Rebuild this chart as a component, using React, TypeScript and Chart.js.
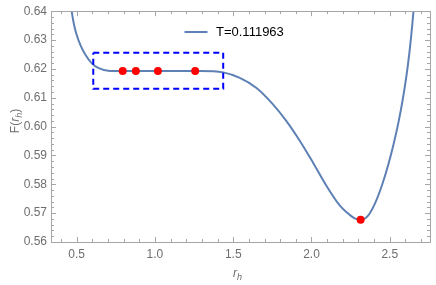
import React, { useEffect, useRef } from "react";
import { Chart, registerables } from "chart.js";

Chart.register(...registerables);

const seriesLabel = "T=0.111963";
const curveR = [0.4604, 0.4681, 0.4828, 0.4987, 0.5255, 0.5549, 0.5957, 0.6378, 0.7125, 0.794, 0.878, 1.019, 1.257, 1.2868, 1.4356, 1.5421, 1.6487, 1.7527, 1.8401, 1.925, 2.0099, 2.0954, 2.1803, 2.2441, 2.276, 2.3143, 2.3462, 2.3718, 2.41, 2.4534, 2.4917, 2.5262, 2.5568, 2.5823, 2.6143, 2.6353, 2.6529, 2.6625];
const curveF = [0.6434, 0.64, 0.63537, 0.63203, 0.62809, 0.625, 0.622, 0.62032, 0.61925, 0.6193, 0.6193, 0.6193, 0.6193, 0.6193, 0.6188, 0.6169, 0.6134, 0.6078, 0.6019, 0.5951, 0.5875, 0.5795, 0.5727, 0.5694, 0.5682, 0.5677, 0.56834, 0.56988, 0.57389, 0.58018, 0.58707, 0.59432, 0.60182, 0.60922, 0.62074, 0.63061, 0.641, 0.6479];
const markR = [0.794, 0.878, 1.019, 1.257, 2.314];
const markF = [0.6193, 0.6193, 0.6193, 0.6193, 0.5677];
const boxR = [0.606, 1.436, 1.436, 0.606, 0.606];
const boxF = [0.6256, 0.6256, 0.6131, 0.6131, 0.6256];
const xTicks = [0.5, 1.0, 1.5, 2.0, 2.5];
const yTicks = [0.56, 0.57, 0.58, 0.59, 0.6, 0.61, 0.62, 0.63, 0.64];
const xRange = [0.336, 2.757];
const yRange = [0.56, 0.64];

const FONT = "'Liberation Sans', Arial, sans-serif";
const FRAME = "#a6a6a6";
const LABEL = "#6e6e6e";

const framePlugin = {
  id: "mmaFrame",
  afterDraw(chart: any) {
    const { ctx, chartArea } = chart;
    const { left, right, top, bottom } = chartArea;
    const xs = chart.scales.x;
    const ys = chart.scales.y;
    ctx.save();
    ctx.strokeStyle = FRAME;
    ctx.lineWidth = 1;
    ctx.strokeRect(Math.round(left) + 0.5, Math.round(top) + 0.5, Math.round(right - left), Math.round(bottom - top));
    ctx.beginPath();
    for (let i = 3; i <= 27; i++) {
      const v = i / 10;
      if (v < xRange[0] || v > xRange[1]) continue;
      const major = i % 5 === 0;
      const len = major ? 5 : 3;
      const px = Math.round(xs.getPixelForValue(v)) + 0.5;
      ctx.moveTo(px, bottom);
      ctx.lineTo(px, bottom - len);
      ctx.moveTo(px, top);
      ctx.lineTo(px, top + len);
    }
    for (let i = 280; i <= 320; i++) {
      const v = i / 500;
      const major = i % 5 === 0;
      const len = major ? 5 : 3;
      const py = Math.round(ys.getPixelForValue(v)) + 0.5;
      ctx.moveTo(left, py);
      ctx.lineTo(left + len, py);
      ctx.moveTo(right, py);
      ctx.lineTo(right - len, py);
    }
    ctx.stroke();

    // legend
    const ds = chart.data.datasets[0];
    const lx = (left + right) / 2 - 56;
    const ly = 32;
    ctx.strokeStyle = ds.borderColor;
    ctx.lineWidth = 2;
    ctx.beginPath();
    ctx.moveTo(lx, ly);
    ctx.lineTo(lx + 23, ly);
    ctx.stroke();
    ctx.fillStyle = "#000";
    ctx.font = `13px ${FONT}`;
    ctx.textAlign = "left";
    ctx.textBaseline = "middle";
    ctx.fillText(ds.label, lx + 31.5, ly + 0.5);

    // axis titles
    ctx.fillStyle = LABEL;
    ctx.textBaseline = "alphabetic";
    const cx = (left + right) / 2 - 3;
    ctx.font = `italic 12px ${FONT}`;
    const rw = ctx.measureText("r").width;
    ctx.font = `italic 9px ${FONT}`;
    const hw = ctx.measureText("h").width;
    const sx = cx - (rw + hw) / 2;
    ctx.font = `italic 12px ${FONT}`;
    ctx.fillText("r", sx, 277);
    ctx.font = `italic 9px ${FONT}`;
    ctx.fillText("h", sx + rw, 280);

    ctx.translate(19, 121);
    ctx.rotate(-Math.PI / 2);
    ctx.font = `12px ${FONT}`;
    const w1 = ctx.measureText("F(").width;
    const w4 = ctx.measureText(")").width;
    ctx.font = `italic 12px ${FONT}`;
    const w2 = ctx.measureText("r").width;
    ctx.font = `italic 9px ${FONT}`;
    const w3 = ctx.measureText("h").width;
    const x0 = -(w1 + w2 + w3 + w4) / 2;
    ctx.font = `12px ${FONT}`;
    ctx.fillText("F(", x0, 0);
    ctx.font = `italic 12px ${FONT}`;
    ctx.fillText("r", x0 + w1, 0);
    ctx.font = `italic 9px ${FONT}`;
    ctx.fillText("h", x0 + w1 + w2, 3);
    ctx.font = `12px ${FONT}`;
    ctx.fillText(")", x0 + w1 + w2 + w3, 0);
    ctx.restore();
  },
};

export default function App() {
  const ref = useRef<HTMLCanvasElement>(null);
  useEffect(() => {
    const canvas = ref.current;
    if (!canvas) return;
    const chart = new Chart(canvas, {
      type: "line",
      data: {
        datasets: [
          {
            label: seriesLabel,
            data: curveR.map((r, i) => ({ x: r, y: curveF[i] })),
            borderColor: "#5E81B5",
            backgroundColor: "#5E81B5",
            borderWidth: 2,
            pointRadius: 0,
            cubicInterpolationMode: "monotone",
            order: 3,
          },
          {
            label: "box",
            data: boxR.map((r, i) => ({ x: r, y: boxF[i] })),
            borderColor: "#0000FF",
            borderWidth: 2,
            borderDash: [6, 4],
            pointRadius: 0,
            tension: 0,
            order: 2,
          },
          {
            label: "marks",
            data: markR.map((r, i) => ({ x: r, y: markF[i] })),
            showLine: false,
            pointRadius: 4,
            pointBackgroundColor: "#FF0000",
            pointBorderColor: "#FF0000",
            pointBorderWidth: 0,
            order: 1,
          },
        ],
      },
      options: {
        responsive: false,
        animation: false,
        events: [],
        layout: { padding: { left: 0, right: 6, top: 7, bottom: 0 } },
        plugins: {
          tooltip: { enabled: false },
          legend: { display: false },
        },
        scales: {
          x: {
            type: "linear",
            min: xRange[0],
            max: xRange[1],
            grid: { display: false, drawTicks: false },
            border: { display: false },
            afterBuildTicks: (s: any) => {
              s.ticks = xTicks.map((v) => ({ value: v }));
            },
            afterFit: (s: any) => {
              s.height = 43;
            },
            ticks: {
              padding: 5,
              color: LABEL,
              font: { family: FONT, size: 12 },
              maxRotation: 0,
              callback: (v: any) => Number(v).toFixed(1),
            },
          },
          y: {
            type: "linear",
            min: yRange[0],
            max: yRange[1],
            grid: { display: false, drawTicks: false },
            border: { display: false },
            afterBuildTicks: (s: any) => {
              s.ticks = yTicks.map((v) => ({ value: v }));
            },
            afterFit: (s: any) => {
              s.width = 51;
            },
            ticks: {
              padding: 4,
              color: LABEL,
              font: { family: FONT, size: 12 },
              callback: (v: any) => Number(v).toFixed(2),
            },
          },
        },
      },
      plugins: [framePlugin],
    } as any);
    return () => chart.destroy();
  }, []);
  return (
    <div style={{ position: "absolute", left: 0, top: 0, width: 436, height: 285 }}>
      <canvas ref={ref} width={436} height={285} style={{ display: "block" }} />
    </div>
  );
}
